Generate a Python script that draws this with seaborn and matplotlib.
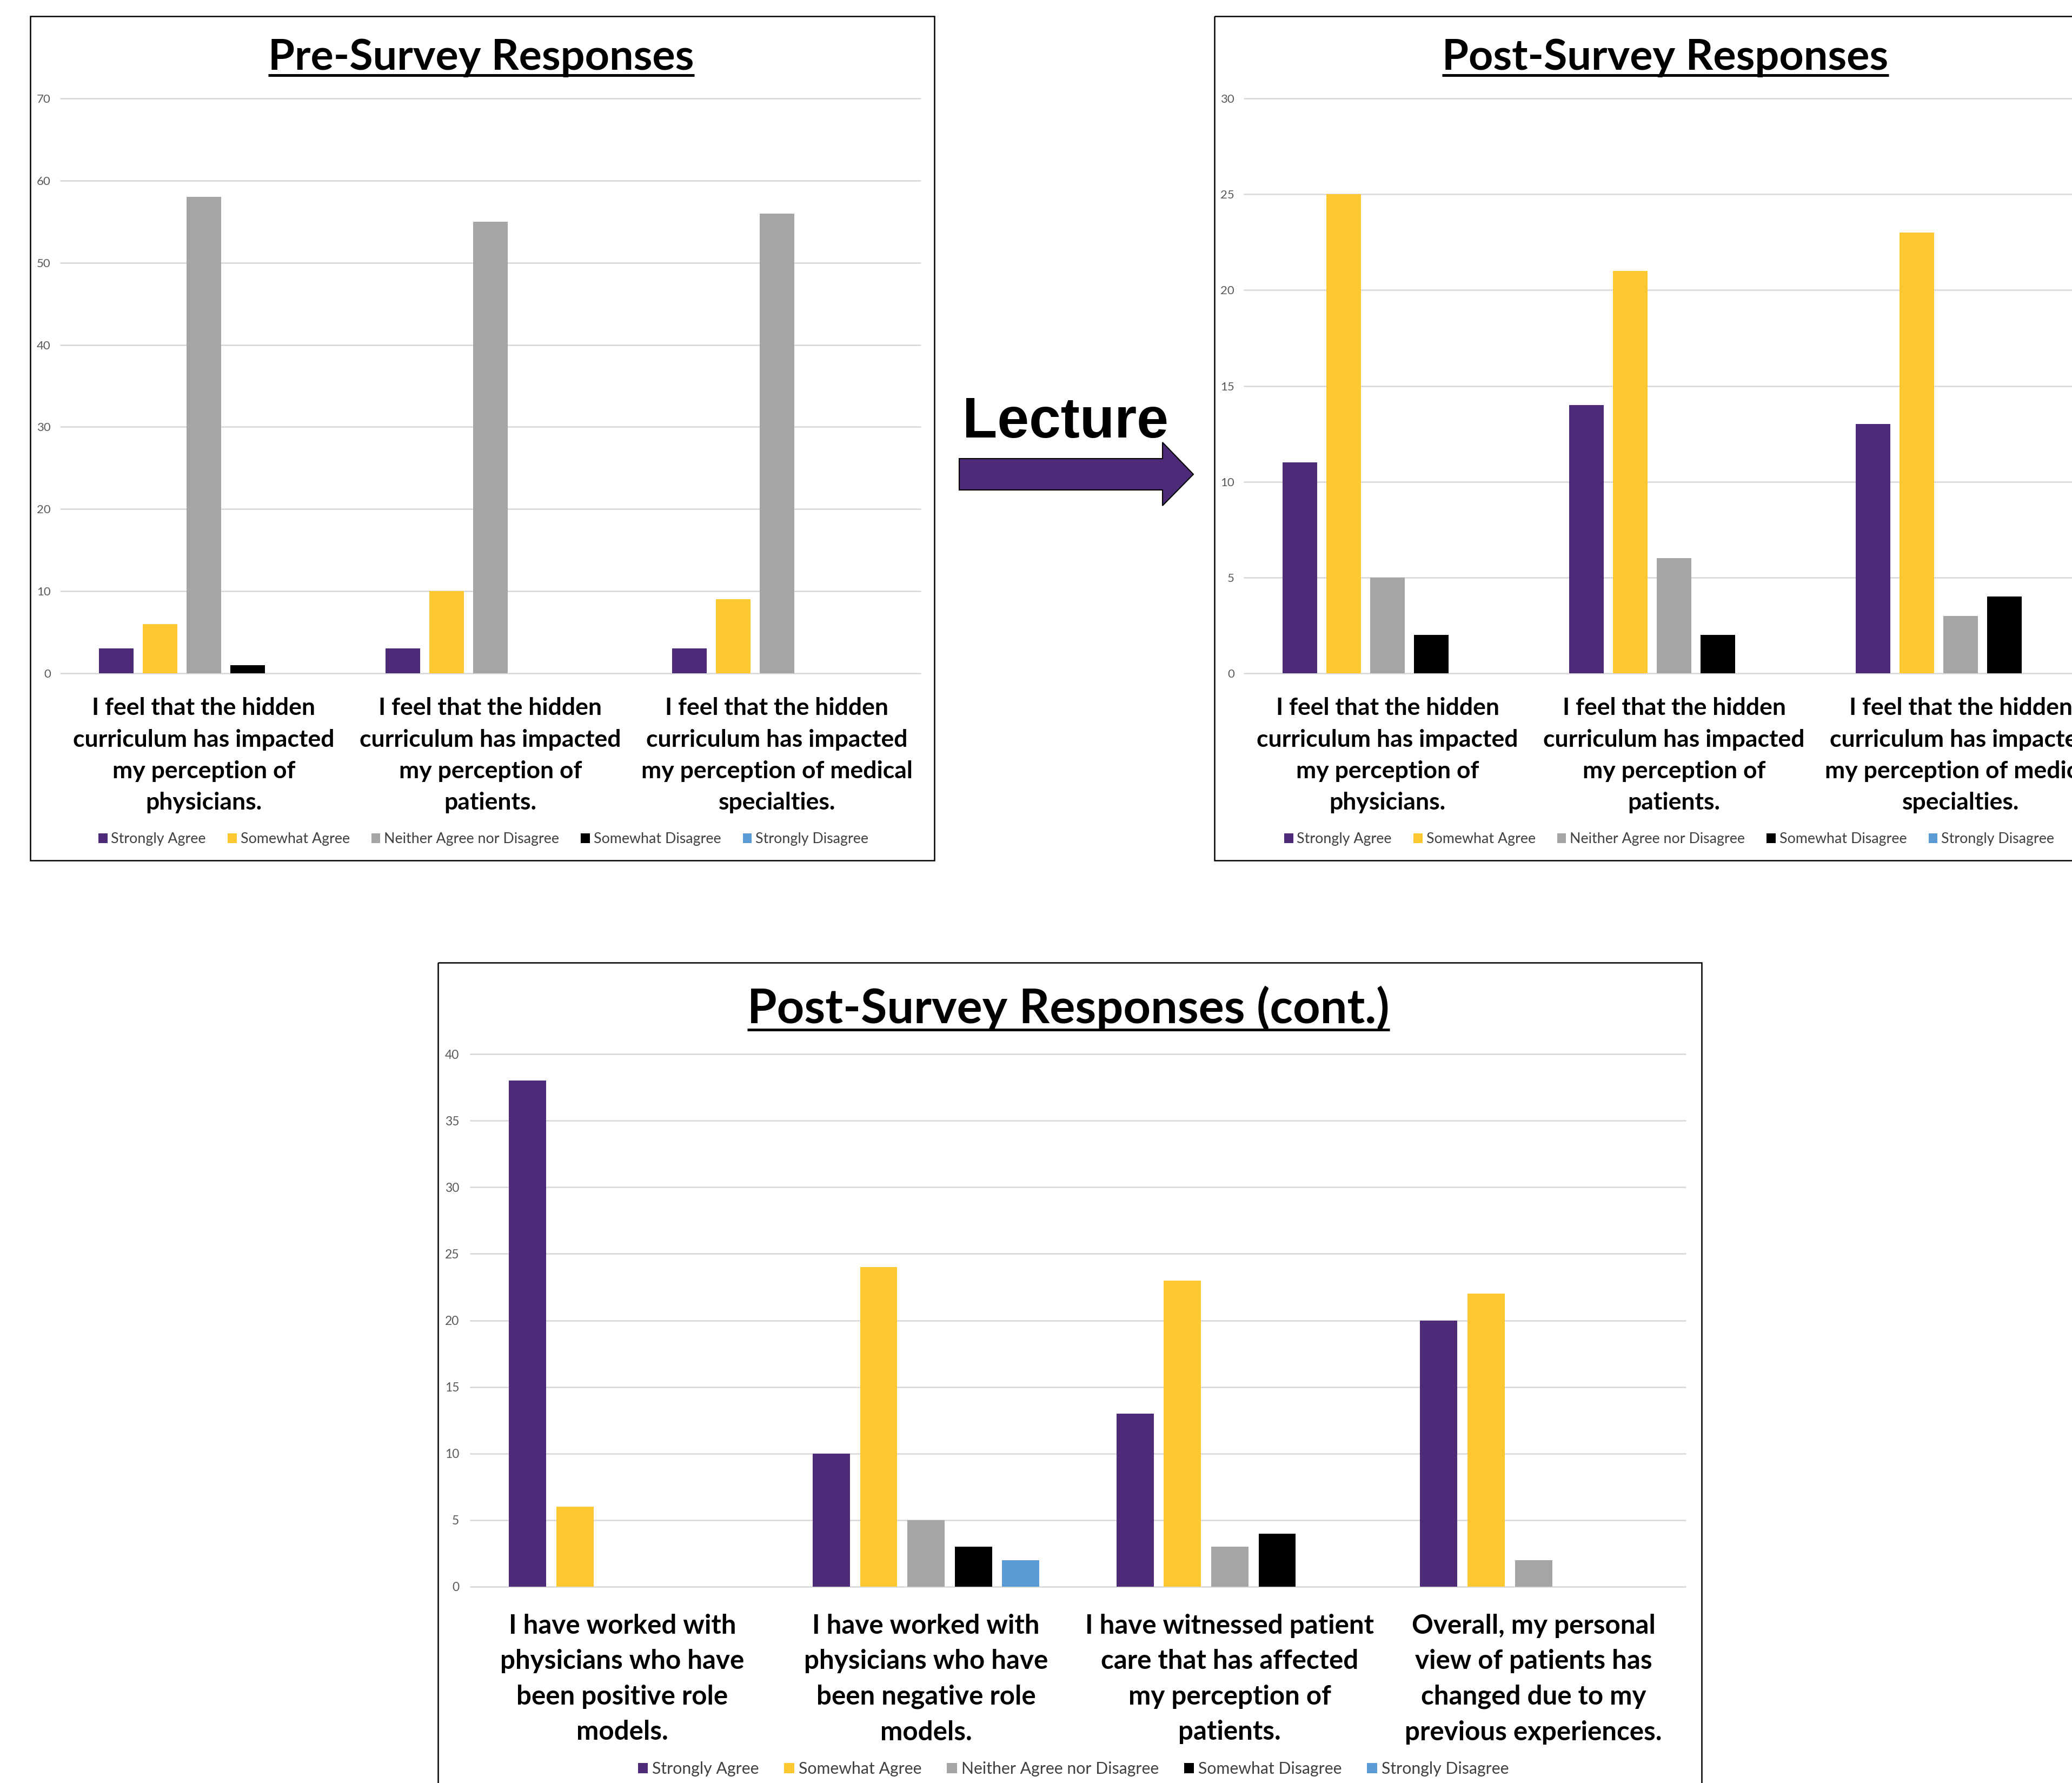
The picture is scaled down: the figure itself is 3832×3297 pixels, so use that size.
import numpy as np
import pandas as pd
import matplotlib
matplotlib.use("Agg")
import matplotlib.pyplot as plt
import seaborn as sns
from matplotlib.patches import Rectangle, Polygon, Patch
from matplotlib.lines import Line2D

# ---------------- data ----------------
responses = ["Strongly Agree", "Somewhat Agree", "Neither Agree nor Disagree",
             "Somewhat Disagree", "Strongly Disagree"]
colors = ["#4E2B78", "#FDC82F", "#A5A5A5", "#000000", "#5B9BD5"]

hidden_labels = [
    "I feel that the hidden\ncurriculum has impacted\nmy perception of\nphysicians.",
    "I feel that the hidden\ncurriculum has impacted\nmy perception of\npatients.",
    "I feel that the hidden\ncurriculum has impacted\nmy perception of medical\nspecialties.",
]

pre_strongly_agree = [3, 3, 3]
pre_somewhat_agree = [6, 10, 9]
pre_neither = [58, 55, 56]
pre_somewhat_disagree = [1, 0, 0]
pre_strongly_disagree = [0, 0, 0]

post_strongly_agree = [11, 14, 13]
post_somewhat_agree = [25, 21, 23]
post_neither = [5, 6, 3]
post_somewhat_disagree = [2, 2, 4]
post_strongly_disagree = [0, 0, 0]

cont_labels = [
    "I have worked with\nphysicians who have\nbeen positive role\nmodels.",
    "I have worked with\nphysicians who have\nbeen negative role\nmodels.",
    "I have witnessed patient\ncare that has affected\nmy perception of\npatients.",
    "Overall, my personal\nview of patients has\nchanged due to my\nprevious experiences.",
]
cont_strongly_agree = [38, 10, 13, 20]
cont_somewhat_agree = [6, 24, 23, 22]
cont_neither = [0, 5, 3, 2]
cont_somewhat_disagree = [0, 3, 4, 0]
cont_strongly_disagree = [0, 2, 0, 0]


def long_df(labels, series):
    rows = []
    for resp, vals in zip(responses, series):
        for lab, v in zip(labels, vals):
            rows.append({"question": lab, "response": resp, "count": v})
    return pd.DataFrame(rows)


pre_df = long_df(hidden_labels, [pre_strongly_agree, pre_somewhat_agree, pre_neither,
                                 pre_somewhat_disagree, pre_strongly_disagree])
post_df = long_df(hidden_labels, [post_strongly_agree, post_somewhat_agree, post_neither,
                                  post_somewhat_disagree, post_strongly_disagree])
cont_df = long_df(cont_labels, [cont_strongly_agree, cont_somewhat_agree, cont_neither,
                                cont_somewhat_disagree, cont_strongly_disagree])

# ---------------- style ----------------
sns.set_style("white")
plt.rcParams["font.family"] = ["Lato", "DejaVu Sans"]

W, H = 3832, 3297
DPI = 100
fig = plt.figure(figsize=(W / DPI, H / DPI), dpi=DPI)
fig.patch.set_facecolor("white")

overlay = fig.add_axes([0, 0, 1, 1], zorder=0)
overlay.set_xlim(0, W)
overlay.set_ylim(H, 0)
overlay.axis("off")


def px_axes(x0, y0, x1, y1):
    return fig.add_axes([x0 / W, 1 - y1 / H, (x1 - x0) / W, (y1 - y0) / H], zorder=2)


def draw_panel(ax, df, labels, ymax, ystep, width, gap, label_size, label_pad,
               tick_size, tick_pad):
    sns.barplot(data=df, x="question", y="count", hue="response", order=labels,
                hue_order=responses, palette=colors, width=width, gap=gap,
                errorbar=None, linewidth=0, legend=False, saturation=1, ax=ax)
    ax.set_xlim(-0.5, len(labels) - 0.5)
    ax.set_ylim(0, ymax)
    ax.set_yticks(np.arange(0, ymax + 0.1, ystep))
    ax.grid(axis="y", color="#D9D9D9", linewidth=1.9)
    ax.grid(axis="x", visible=False)
    ax.set_axisbelow(True)
    for s in ax.spines.values():
        s.set_visible(False)
    ax.tick_params(axis="both", length=0)
    ax.tick_params(axis="y", labelsize=tick_size, labelcolor="#595959", pad=tick_pad)
    ax.tick_params(axis="x", pad=label_pad)
    ax.set_xticks(range(len(labels)))
    ax.set_xticklabels(labels, fontsize=label_size, fontweight="bold",
                       linespacing=1.55, color="black")
    ax.set_xlabel("")
    ax.set_ylabel("")
    ax.patch.set_alpha(0)
    for line in ax.get_ygridlines():
        line.set_clip_on(False)


def add_legend(cx, cy, size, colspace):
    handles = [Patch(facecolor=c, edgecolor="none") for c in colors]
    fig.legend(handles, responses, loc="center", bbox_to_anchor=(cx / W, 1 - cy / H),
               ncol=5, frameon=False, fontsize=size, handlelength=0.62,
               handleheight=0.62, handletextpad=0.25, columnspacing=colspace,
               labelcolor="#404040")


# panel frames
for (x0, y0, x1, y1) in [(56, 30, 1728, 1591), (2246, 30, 3918, 1591), (810, 1780, 3147, 3330)]:
    overlay.add_patch(Rectangle((x0, y0), x1 - x0, y1 - y0, fill=False,
                                edgecolor="black", linewidth=1.8))

# panels
ax1 = px_axes(112, 182, 1702, 1245)
draw_panel(ax1, pre_df, hidden_labels, 70, 10, 0.765, 0.21, 32, 32, 16, 13)
ax2 = px_axes(2301, 182, 3891, 1245)
draw_panel(ax2, post_df, hidden_labels, 30, 5, 0.765, 0.21, 32, 32, 16, 13)
ax3 = px_axes(870, 1949, 3117, 2934)
draw_panel(ax3, cont_df, cont_labels, 40, 5, 0.78, 0.215, 35.5, 36, 16.5, 15)

add_legend(894, 1552, 19.3, 1.5)
add_legend(3087, 1552, 19.3, 1.5)
add_legend(1985, 3271, 21.8, 1.55)

# titles
titles = []
for (cx, base, txt, size, uoff) in [(890, 129, "Pre-Survey Responses", 57, 10),
                                    (3080, 129, "Post-Survey Responses", 57, 10),
                                    (1976, 1892, "Post-Survey Responses (cont.)", 63.5, 12)]:
    t = overlay.text(cx, base, txt, ha="center", va="baseline", fontsize=size,
                     fontweight="bold", color="black")
    titles.append((t, base, uoff))

# lecture arrow
overlay.text(1780, 809, "Lecture", ha="left", va="baseline", fontsize=76,
             fontweight="bold", family=["Liberation Sans", "DejaVu Sans"], color="black")
overlay.add_patch(Polygon([(1774, 848), (2150, 848), (2150, 818), (2207, 877),
                           (2150, 935), (2150, 906), (1774, 906)], closed=True,
                          facecolor="#4E2B78", edgecolor="black", linewidth=1.5))

# underline titles
fig.canvas.draw()
renderer = fig.canvas.get_renderer()
for t, base, uoff in titles:
    bb = t.get_window_extent(renderer)
    overlay.add_line(Line2D([bb.x0, bb.x1], [base + uoff, base + uoff],
                            color="black", linewidth=3.6, solid_capstyle="butt"))

fig.savefig("out.png", dpi=DPI, facecolor="white")
